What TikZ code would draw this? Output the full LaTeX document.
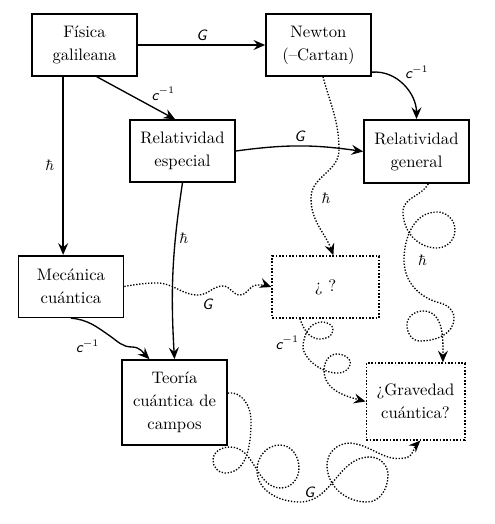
\documentclass[tikz,border=0pt]{standalone}
\usepackage{tikz}
\usetikzlibrary{arrows.meta, positioning, calc}
\tikzset{
    box/.style={
        rectangle,
        draw=black,
        line width=1pt,
        minimum width=63pt,
        minimum height=37pt,
        align=center,
        inner sep=2pt,
        font=\linespread{1.15}\selectfont,
    },
    qbox/.style={
        box,
        densely dotted,
    },
    lab/.style={font=\sffamily\itshape\small, inner sep=2pt},
    flow/.style={line width=0.8pt, -{Stealth[length=7pt,width=6pt,inset=2.5pt]}},
    guess/.style={flow, densely dotted},
}

\begin{document}
\begin{tikzpicture}[x=0.6pt, y=0.6pt]
    \useasboundingbox (0,0) rectangle (494,-524);
    % boxes
    \node [box] (FG) at (84.5,-45) {Física\\galileana};
    \node [box] (NW) at (318.5,-45) {Newton\\(--Cartan)};
    \node [box] (RE) at (182.5,-151) {Relatividad\\especial};
    \node [box, minimum height=38pt] (RG) at (416.5,-151.5) {Relatividad\\general};
    \node [box] (MC) at (71,-286.5) {Mecánica\\cuántica};
    \node [qbox, minimum width=64pt] (Q) at (325.5,-287) {¿ ?};
    \node [box, minimum height=51pt] (TC) at (174.5,-402.5) {Teoría\\cuántica de\\campos};
    \node [qbox, minimum width=59pt, minimum height=46pt] (GC) at (415.5,-401.5) {¿Gravedad\\cuántica?};

    % known limits
    \path[flow] (FG.east) edge node[lab, above] {G} (NW.west);
    \path[flow] (FG.-69) edge node[lab, pos=0.65, above right] {c$^{-1}$} (RE.103);
    \draw[flow] (FG.-124) -- node[lab, left=3pt] {$\hbar$} (FG.-124 |- MC.north);
    \draw[flow] (NW.-27) to[out=5,in=90] node[lab, pos=0.45, above right] {c$^{-1}$} (RG.north);
    \path[flow] (RE.east) edge[bend left=8] node[lab, above] {G} (RG.west);
    \path[flow] (RE.south) edge[bend right=6] node[lab, pos=0.3, right] {$\hbar$} (TC.north);
    \draw[flow] (MC.south) to[out=-5,in=145] (110,-336) node[lab, below left, xshift=-4pt] {c$^{-1}$}
        to[out=-35,in=180] (132,-347) to[out=0,in=135] (TC.120);

    % open questions
    \draw[guess] (NW.-82) to[out=-75,in=90] (339,-150) to[out=-90,in=90] (311,-198) node[lab, right=4pt] {$\hbar$}
        to[out=-90,in=110] (Q.76);
    \draw[guess] (MC.east) to[out=10,in=180] (157,-283) to[out=0,in=180] (198,-295) node[lab, below right] {G}
        to[out=0,in=180] (223,-286) to[out=0,in=180] (240,-295) to[out=0,in=180] (257,-285)
        to[out=0,in=160] (Q.west);
    \draw[guess] (RG.-70) to[out=-120,in=90] (403,-212) to[out=-90,in=180] (437,-248)
        to[out=0,in=-90] (455,-230) to[out=90,in=0] (437,-212) to[out=180,in=90] (404,-260) node[lab, right=6pt] {$\hbar$}
        to[out=-90,in=165] (440,-303) to[out=-15,in=90] (454,-318) to[out=-90,in=0] (420,-341)
        to[out=180,in=-90] (407,-325) to[out=90,in=180] (423,-311) to[out=0,in=90] (GC.55);
    \draw[guess] (Q.-129) to[out=-70,in=180] (320,-339) to[out=0,in=-90] (333,-330)
        to[out=90,in=0] (322,-322) to[out=180,in=90] (303,-348) node[lab, left, yshift=3pt] {c$^{-1}$}
        to[out=-80,in=-110] (350,-365) to[out=70,in=0] (337,-354) to[out=180,in=90] (324,-370)
        to[out=-90,in=165] (GC.west);
    \draw[guess] (TC.10) to[out=10,in=90] (251,-420) to[out=-90,in=0] (225,-473)
        to[out=180,in=-90] (213,-460) to[out=90,in=180] (230,-447) to[out=0,in=180] (281,-488)
        to[out=0,in=-90] (299,-468) to[out=90,in=0] (280,-445) to[out=180,in=90] (257,-470)
        to[out=-90,in=180] (300,-502) node[lab, above right] {G}
        to[out=0,in=180] (370,-457) to[out=0,in=90] (388,-475) to[out=-90,in=0] (367,-502)
        to[out=180,in=-90] (327,-465) to[out=90,in=180] (350,-443) to[out=-5,in=190] (405,-458)
        to[out=10,in=225] (GC.-83);
\end{tikzpicture}
\end{document}
